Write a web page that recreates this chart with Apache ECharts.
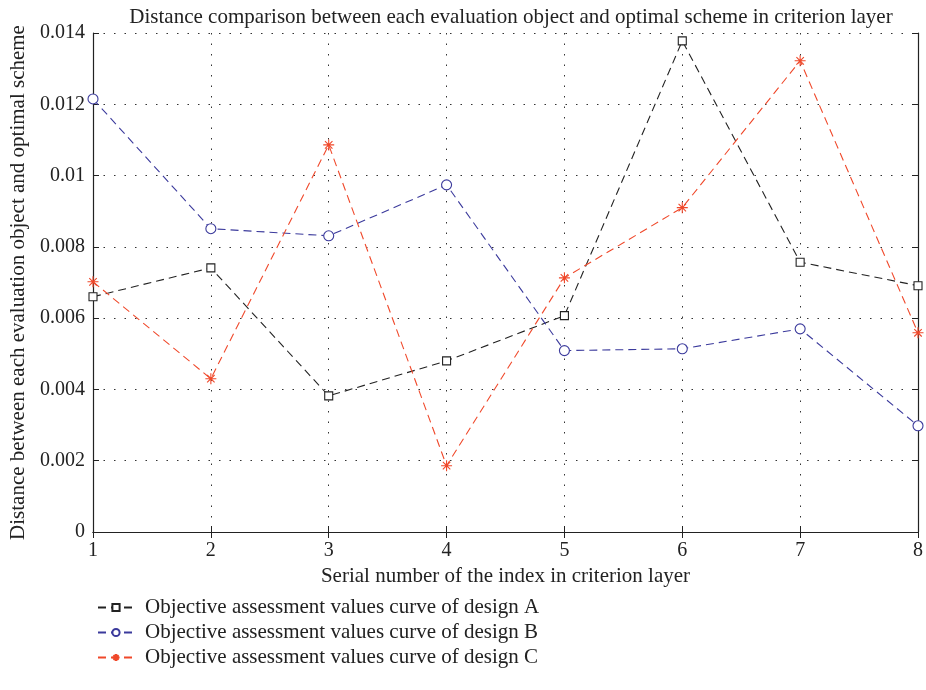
<!DOCTYPE html>
<html><head><meta charset="utf-8">
<script src="https://cdn.jsdelivr.net/npm/echarts@6/dist/echarts.min.js"></script>
<style>html,body{margin:0;padding:0;background:#fff}#c{width:926px;height:690px}</style>
</head><body><div id="c"></div>
<script>
const indices = [1, 2, 3, 4, 5, 6, 7, 8];
const designA = [0.0066, 0.00741, 0.00382, 0.0048, 0.00607, 0.01378, 0.00757, 0.00691];
const designB = [0.01215, 0.00851, 0.00831, 0.00974, 0.00509, 0.00514, 0.0057, 0.00298];
const designC = [0.00702, 0.0043, 0.01086, 0.00186, 0.00713, 0.0091, 0.01322, 0.00559];
const seriesNames = ['Objective assessment values curve of design A','Objective assessment values curve of design B','Objective assessment values curve of design C'];
const yTicks = [0, 0.002, 0.004, 0.006, 0.008, 0.01, 0.012, 0.014];

const font = 'Liberation Serif';
const pair = arr => indices.map((x, i) => [x, arr[i]]);
const asterisk = 'path://M0,5L10,5M5,0L5,10M1.6,1.6L8.4,8.4M8.4,1.6L1.6,8.4';
const colors = ['#222222', '#3b3a9c', '#f0482a'];
const symbols = ['rect', 'circle', asterisk];
const sizes = [8, 10, 11];
const datas = [designA, designB, designC];

const chart = echarts.init(document.getElementById('c'));
const tickInside = {show: true, inside: true, length: 6, lineStyle: {color: '#222'}};
const axisLine = {show: true, lineStyle: {color: '#222', width: 1.2}};
chart.setOption({
  animation: false,
  title: {text: 'Distance comparison between each evaluation object and optimal scheme in criterion layer',
    left: 506, top: 2, textAlign: 'center',
    textStyle: {fontFamily: font, fontSize: 21, fontWeight: 'normal', color: '#222'}},
  grid: {left: 93, right: 5, top: 33, bottom: 158},
  legend: {orient: 'vertical', left: 92, top: 592, itemGap: 4, itemWidth: 36, itemHeight: 9,
    textStyle: {fontFamily: font, fontSize: 21, color: '#222', padding: [0, 0, 0, 6]},
    data: seriesNames},
  xAxis: [{type: 'value', min: 1, max: 8, interval: 1,
    name: 'Serial number of the index in criterion layer', nameLocation: 'middle', nameGap: 34,
    nameTextStyle: {fontFamily: font, fontSize: 21, color: '#222'},
    axisLine: axisLine, axisTick: tickInside,
    axisLabel: {fontFamily: font, fontSize: 20, color: '#222', margin: 9},
    splitLine: {show: true, lineStyle: {color: '#333', type: [1.5, 9], width: 1}}},
    {type: 'value', position: 'top', min: 1, max: 8, interval: 1,
    axisLine: axisLine, axisTick: tickInside, axisLabel: {show: false}, splitLine: {show: false}}],
  yAxis: [{type: 'value', min: 0, max: 0.014, interval: 0.002,
    name: 'Distance between each evaluation object and optimal scheme', nameLocation: 'middle', nameGap: 63,
    nameTextStyle: {fontFamily: font, fontSize: 21, color: '#222'},
    axisLine: axisLine, axisTick: tickInside,
    axisLabel: {fontFamily: font, fontSize: 20, color: '#222', margin: 8,
      formatter: v => String(yTicks.find(t => Math.abs(t - v) < 1e-9) ?? v)},
    splitLine: {show: true, lineStyle: {color: '#333', type: [1.5, 9], width: 1}}},
    {type: 'value', position: 'right', min: 0, max: 0.014, interval: 0.002,
    axisLine: axisLine, axisTick: tickInside, axisLabel: {show: false}, splitLine: {show: false}}],
  series: datas.map((d, i) => ({
    name: seriesNames[i], type: 'line', data: pair(d),
    symbol: symbols[i], symbolSize: sizes[i], showSymbol: true,
    lineStyle: {color: colors[i], width: 1.1, type: [8, 5]},
    itemStyle: {color: i === 2 ? colors[i] : '#fff', borderColor: colors[i], borderWidth: 1.1},
    z: 3
  }))
});
</script></body></html>
